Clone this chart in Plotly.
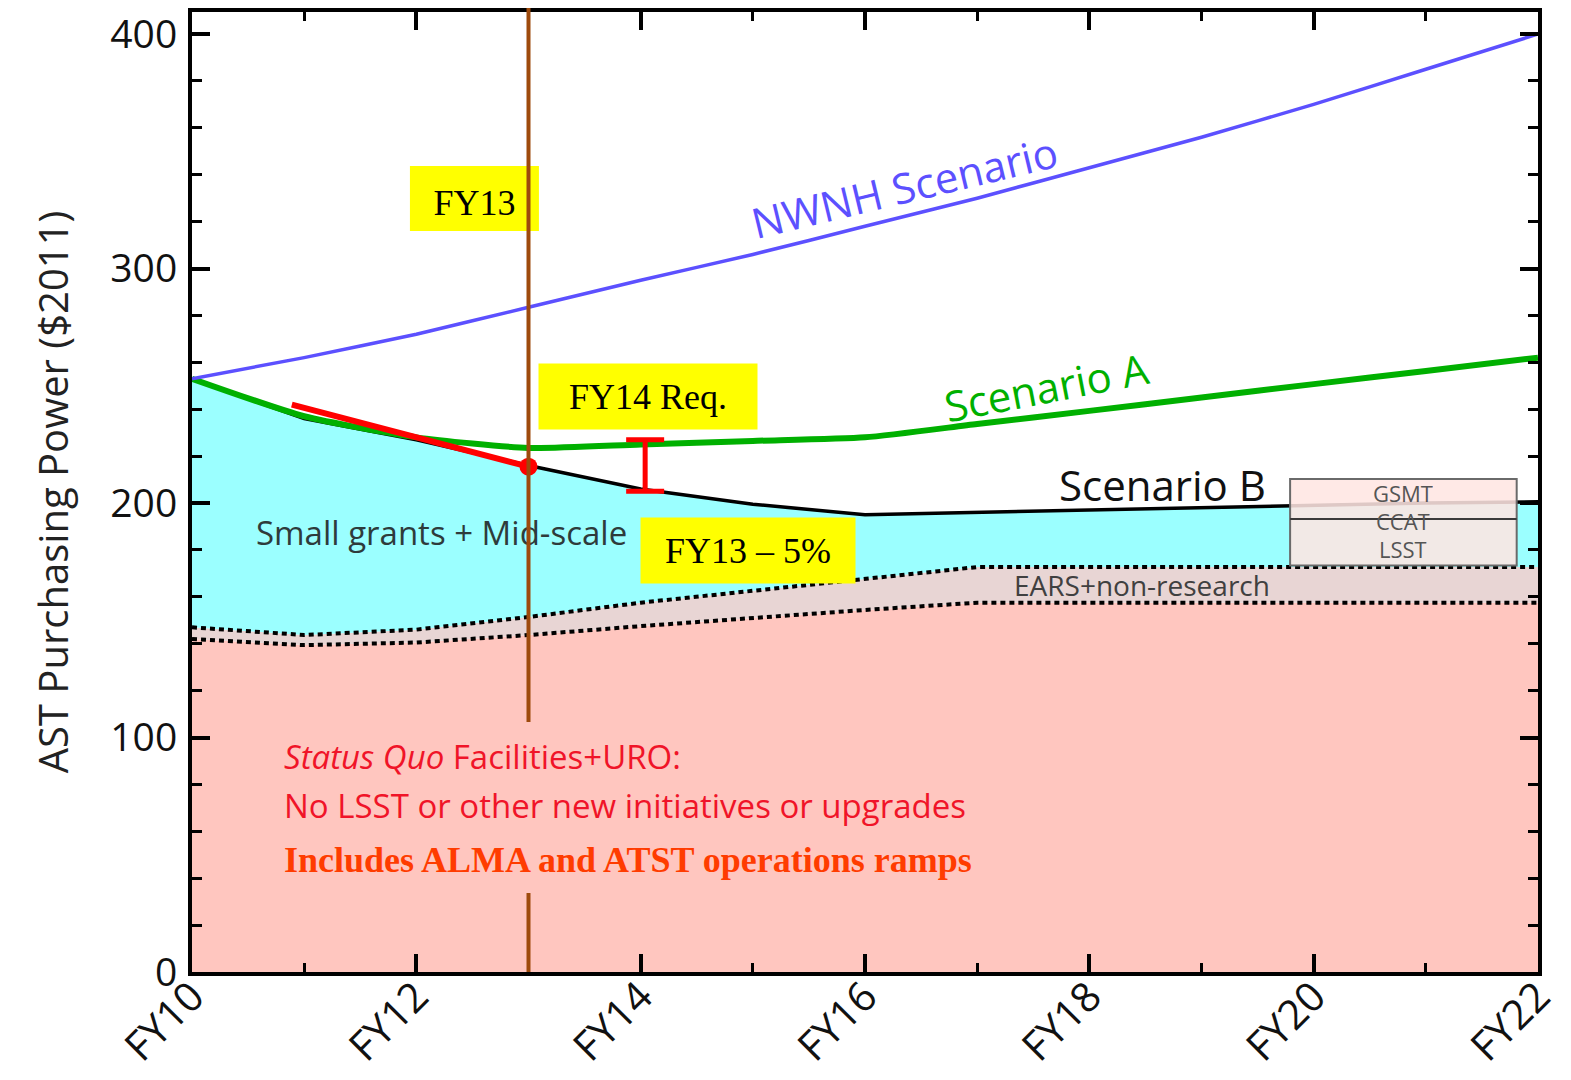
import plotly.graph_objects as go

# ---------------- data ----------------
years = [10, 11, 12, 13, 14, 15, 16, 17, 18, 19, 20, 21, 22]
tick_years = [10, 12, 14, 16, 18, 20, 22]
tick_labels = ["FY10", "FY12", "FY14", "FY16", "FY18", "FY20", "FY22"]

nwnh = [253, 262, 272, 283.5, 295, 306, 318, 330, 343, 356, 370, 385, 400]
scenario_a = [253, 237, 228, 223.5, 225, 226.5, 228, 233.7, 239.3, 245, 250.7, 256.3, 262]
scenario_b = [253, 236, 227, 216, 206, 199.5, 195, 196, 197, 198, 199, 200, 200.5]
ears_top = [147, 143.7, 146, 151.4, 157.5, 162.5, 167.5, 172.7, 172.7, 172.7, 172.7, 172.7, 172.7]
status_quo_top = [142, 139.4, 140.5, 143.7, 147.5, 151, 154.4, 157.5, 157.5, 157.5, 157.5, 157.5, 157.5]

# FY14 request trend (red) and FY13-5% gap
fy14_req_x = [10.89, 13.0]
fy14_req_y = [242, 215.5]
gap_x = [14.04]
gap_mid = [216]
gap_half = [11]

# New facilities box (GSMT / CCAT / LSST)
box_x = [19.79, 21.81]
box_levels = [173.4, 193.2, 210.2]   # bottom, CCAT divider, top
box_names = ["GSMT", "CCAT", "LSST"]
box_label_y = [204.3, 192.3, 180.4]

fy13 = 13.0

# ---------------- styles ----------------
PINK = "rgb(255,198,191)"
EARS = "rgb(232,213,212)"
CYAN = "rgb(155,255,255)"
BLUE = "rgb(92,80,255)"
GREEN = "rgb(0,176,0)"
RED = "rgb(255,0,0)"
BROWN = "rgb(158,74,12)"
SANS = "Open Sans"
SERIF = "Liberation Serif"

fig = go.Figure()

# filled bands
fig.add_trace(go.Scatter(x=years, y=status_quo_top, mode="lines", fill="tozeroy",
                         fillcolor=PINK, line=dict(width=0), hoverinfo="skip"))
fig.add_trace(go.Scatter(x=years, y=ears_top, mode="lines", fill="tonexty",
                         fillcolor=EARS, line=dict(width=0), hoverinfo="skip"))
fig.add_trace(go.Scatter(x=years, y=scenario_b, mode="lines", fill="tonexty",
                         fillcolor=CYAN, line=dict(width=0), hoverinfo="skip"))

# label under the FY13 line
fig.add_trace(go.Scatter(x=[10.57], y=[185.5], mode="text", text=["Small grants + Mid-scale"],
                         textposition="middle right",
                         textfont=dict(family=SANS, size=33, color="#2e3b3b"), hoverinfo="skip"))

# boundary lines
fig.add_trace(go.Scatter(x=years, y=status_quo_top, mode="lines",
                         line=dict(color="black", width=4, dash="5px,4px"), hoverinfo="skip"))
fig.add_trace(go.Scatter(x=years, y=ears_top, mode="lines",
                         line=dict(color="black", width=4, dash="5px,4px"), hoverinfo="skip"))
fig.add_trace(go.Scatter(x=years, y=scenario_b, mode="lines",
                         line=dict(color="black", width=3.5), hoverinfo="skip"))
fig.add_trace(go.Scatter(x=years, y=scenario_a, mode="lines", line_shape="spline",
                         line=dict(color=GREEN, width=6, smoothing=0.6), hoverinfo="skip"))
fig.add_trace(go.Scatter(x=years, y=nwnh, mode="lines", line_shape="spline",
                         line=dict(color=BLUE, width=3.5, smoothing=0.5), hoverinfo="skip"))

# red FY14 request trend + dot
fig.add_trace(go.Scatter(x=fy14_req_x, y=fy14_req_y, mode="lines",
                         line=dict(color=RED, width=6), hoverinfo="skip"))
fig.add_trace(go.Scatter(x=[fy14_req_x[-1]], y=[fy14_req_y[-1]], mode="markers",
                         marker=dict(color=RED, size=18), hoverinfo="skip"))
# red gap bar
fig.add_trace(go.Scatter(x=gap_x, y=gap_mid, mode="markers", marker=dict(size=0.1, color=RED),
                         error_y=dict(type="data", array=gap_half, color=RED, thickness=5, width=19),
                         hoverinfo="skip"))

shapes = []
# facility box
shapes.append(dict(type="rect", xref="x", yref="y", x0=box_x[0], x1=box_x[1],
                   y0=box_levels[0], y1=box_levels[2],
                   fillcolor="rgba(255,230,226,0.87)", line=dict(color="#6a6a6a", width=2), layer="above"))
shapes.append(dict(type="line", xref="x", yref="y", x0=box_x[0], x1=box_x[1],
                   y0=box_levels[1], y1=box_levels[1], line=dict(color="#3a3a3a", width=2), layer="above"))
# FY13 yellow box (under the FY13 line)
shapes.append(dict(type="rect", xref="x", yref="y", x0=11.943, x1=13.093, y0=316.0, y1=343.7,
                   fillcolor="yellow", line=dict(width=0), layer="above",
                   label=dict(text="FY13", font=dict(family=SERIF, size=36, color="black"),
                              textposition="middle center")))
# FY13 vertical line (with gap behind the status-quo text)
shapes.append(dict(type="line", xref="x", yref="paper", x0=fy13, x1=fy13, y0=106.6 / 409.4, y1=1.0075,
                   line=dict(color=BROWN, width=4), layer="above"))
shapes.append(dict(type="line", xref="x", yref="y", x0=fy13, x1=fy13, y0=0, y1=33.7,
                   line=dict(color=BROWN, width=4), layer="above"))

annotations = []
annotations.append(dict(x=16.356, y=334.8, text="NWNH Scenario", showarrow=False, textangle=-13.5,
                        font=dict(family=SANS, size=42, color=BLUE)))
annotations.append(dict(x=17.62, y=249.5, text="Scenario A", showarrow=False, textangle=-11,
                        font=dict(family=SANS, size=42, color=GREEN)))
annotations.append(dict(x=18.656, y=207.7, text="Scenario B", showarrow=False,
                        font=dict(family=SANS, size=42, color="#111")))
annotations.append(dict(x=18.469, y=165.0, text="EARS+non-research", showarrow=False,
                        font=dict(family=SANS, size=28, color="#404040")))
for name, yv in zip(box_names, box_label_y):
    annotations.append(dict(x=(box_x[0] + box_x[1]) / 2, y=yv, text=name, showarrow=False,
                            height=20, font=dict(family=SANS, size=22, color="#555")))
annotations.append(dict(x=14.065, y=245.4, text="FY14 Req.", showarrow=False,
                        bgcolor="yellow", width=218, height=65, borderpad=0,
                        font=dict(family=SERIF, size=36, color="black")))
annotations.append(dict(x=14.957, y=179.7, text="FY13 \u2013 5%", showarrow=False,
                        bgcolor="yellow", width=214, height=65, borderpad=0,
                        font=dict(family=SERIF, size=36, color="black")))
annotations.append(dict(x=10.8, y=91.7, xanchor="left", showarrow=False,
                        text="<i>Status Quo</i> Facilities+URO:",
                        font=dict(family=SANS, size=33, color="rgb(240,20,40)")))
annotations.append(dict(x=10.8, y=71.2, xanchor="left", showarrow=False,
                        text="No LSST or other new initiatives or upgrades",
                        font=dict(family=SANS, size=33, color="rgb(240,20,40)")))
annotations.append(dict(x=10.8, y=47.8, xanchor="left", showarrow=False,
                        text="<b>Includes ALMA and ATST operations ramps</b>",
                        font=dict(family=SERIF, size=36, color="rgb(255,60,0)")))

axis_common = dict(showline=True, linecolor="black", linewidth=4, mirror="ticks",
                   ticks="inside", tickcolor="black", tickwidth=4, ticklen=18,
                   showgrid=False, zeroline=False, automargin=False, ticklabeloverflow="allow")

# the page body adds an 8px margin, so the figure is sized/offset to compensate
fig.update_layout(
    width=1555, height=1064,
    margin=dict(l=184, r=25, t=4, b=100),
    plot_bgcolor="white", paper_bgcolor="white",
    showlegend=False,
    shapes=shapes, annotations=annotations,
    xaxis=dict(range=[10, 22], tickvals=tick_years, ticktext=tick_labels, tickangle=-45,
               ticklabelstandoff=-20, tickfont=dict(family=SANS, size=41, color="#111"),
               minor=dict(dtick=1, ticks="inside", ticklen=9, tickwidth=3, tickcolor="black"),
               **axis_common),
    yaxis=dict(range=[0, 409.4], tickvals=[0, 100, 200, 300, 400], ticklabelstandoff=3,
               tickfont=dict(family=SANS, size=39, color="#111"),
               minor=dict(dtick=20, ticks="inside", ticklen=10, tickwidth=3, tickcolor="black"),
               title=dict(text="AST Purchasing Power ($2011)", standoff=30,
                          font=dict(family=SANS, size=40, color="#222")),
               **axis_common),
)

fig.write_html("out.html")
